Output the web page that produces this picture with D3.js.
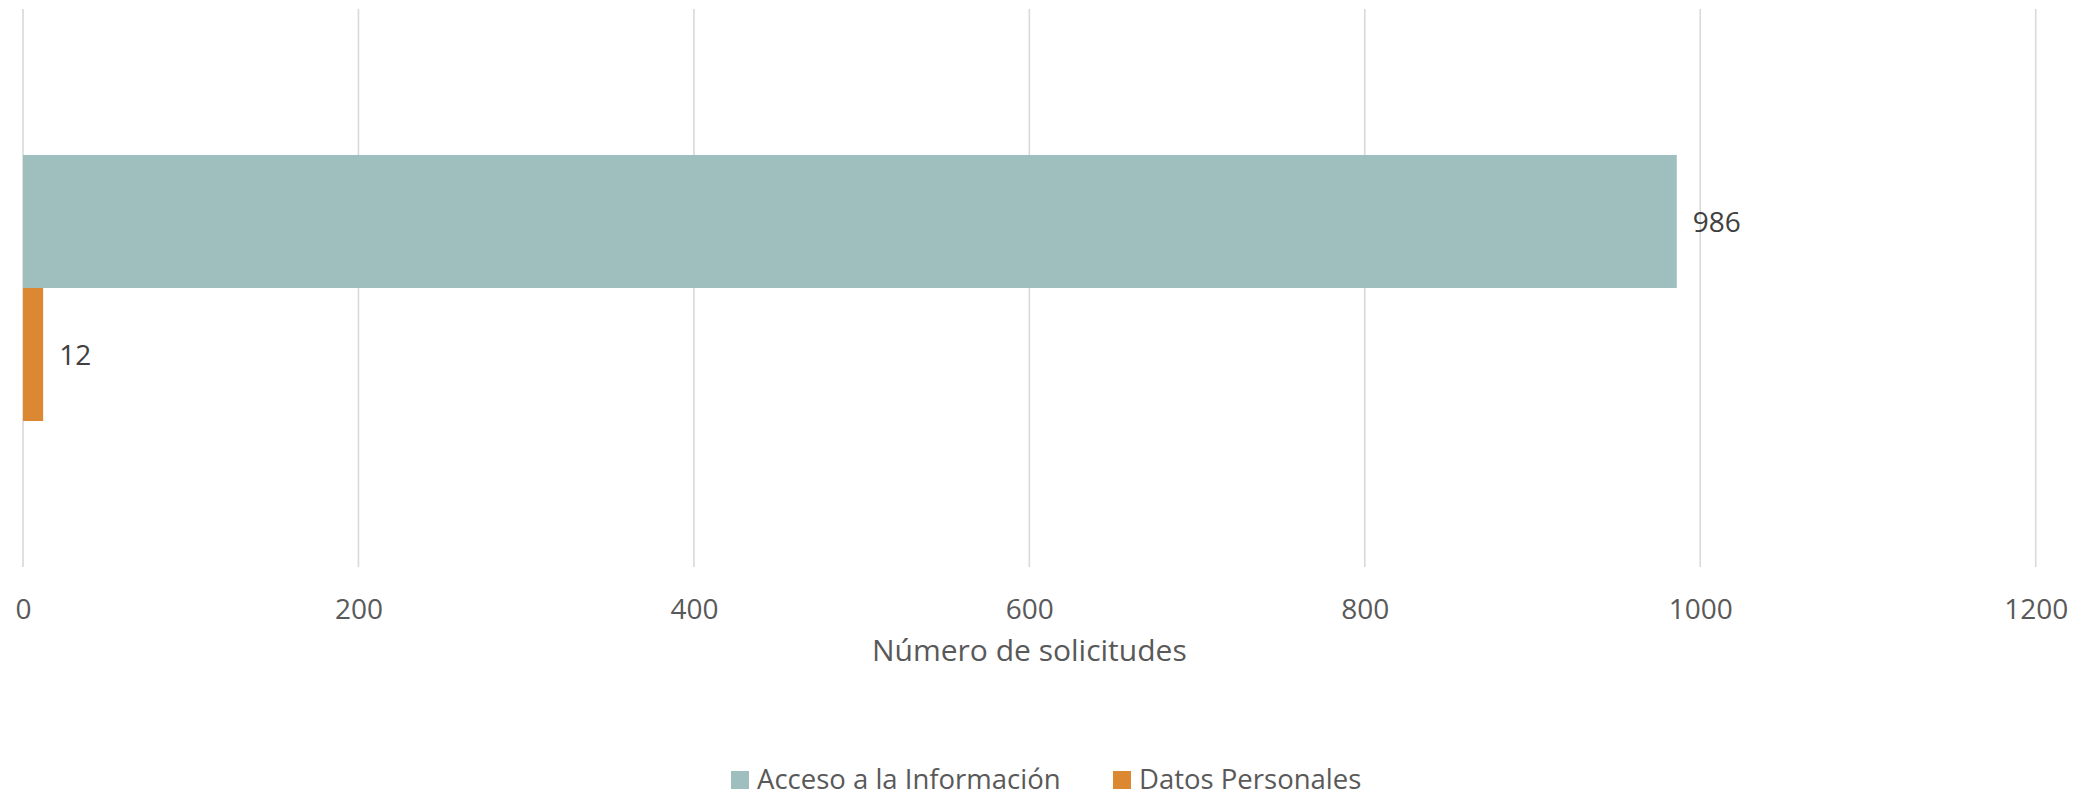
<!DOCTYPE html>
<html>
<head>
<meta charset="utf-8">
<script src="https://cdn.jsdelivr.net/npm/d3@7"></script>
<style>
  html, body { margin: 0; padding: 0; background: #ffffff; }
  svg { display: block; }
  text { font-family: "Open Sans", "Noto Sans", sans-serif; }
</style>
</head>
<body>
<svg id="chart" width="2087" height="796"></svg>
<script>
const categories = ["Solicitudes"];
const seriesNames = ["Acceso a la Información", "Datos Personales"];
const seriesValues = [986, 12];
const seriesColors = ["#9FBFBF", "#DC8731"];
const xTicks = [0, 200, 400, 600, 800, 1000, 1200];
const axisTitle = "Número de solicitudes";

const W = 2087, H = 796;
const plot = { left: 23, right: 2035.7, top: 9, bottom: 567 };

const svg = d3.select("#chart");

const x = d3.scaleLinear().domain([0, 1200]).range([plot.left, plot.right]);
const y0 = d3.scaleBand().domain(categories).range([plot.top, plot.bottom]).padding(0.3543);
const y1 = d3.scaleBand().domain(seriesNames).range([0, y0.bandwidth()]).padding(0);

// gridlines
svg.append("g")
  .selectAll("line")
  .data(xTicks)
  .join("line")
  .attr("x1", d => x(d)).attr("x2", d => x(d))
  .attr("y1", plot.top).attr("y2", plot.bottom)
  .attr("stroke", "#D9D9D9")
  .attr("stroke-width", 1.6);

// tick labels via axis
const axis = d3.axisBottom(x).tickValues(xTicks).tickSize(0).tickPadding(0).tickFormat(d3.format("d"));
const axG = svg.append("g").attr("transform", `translate(0, 618.5)`).call(axis);
axG.select(".domain").remove();
axG.selectAll("text")
  .attr("dy", 0)
  .attr("y", 0)
  .attr("fill", "#595959")
  .style("font-size", "28px")
  .style("font-family", "'Open Sans', sans-serif");

// bars
const data = seriesNames.map((s, i) => ({ cat: categories[0], name: s, value: seriesValues[i], color: seriesColors[i] }));
const g = svg.append("g");
g.selectAll("rect")
  .data(data)
  .join("rect")
  .attr("x", x(0))
  .attr("y", d => y0(d.cat) + y1(d.name))
  .attr("width", d => x(d.value) - x(0))
  .attr("height", y1.bandwidth())
  .attr("fill", d => d.color);

// data labels
g.selectAll("text.lbl")
  .data(data)
  .join("text")
  .attr("class", "lbl")
  .attr("x", d => x(d.value) + 16)
  .attr("y", d => y0(d.cat) + y1(d.name) + y1.bandwidth() / 2)
  .attr("dy", "0.36em")
  .attr("fill", "#404040")
  .style("font-size", "28px")
  .text(d => d.value);

// axis title
svg.append("text")
  .attr("x", (plot.left + plot.right) / 2)
  .attr("y", 660.5)
  .attr("text-anchor", "middle")
  .attr("fill", "#595959")
  .style("font-size", "30px")
  .text(axisTitle);

// legend
const legend = svg.append("g");
const lgItems = [
  { name: seriesNames[0], color: seriesColors[0], x: 731 },
  { name: seriesNames[1], color: seriesColors[1], x: 1113 }
];
lgItems.forEach(it => {
  legend.append("rect")
    .attr("x", it.x).attr("y", 771)
    .attr("width", 18).attr("height", 18)
    .attr("fill", it.color);
  legend.append("text")
    .attr("x", it.x + 26).attr("y", 788.5)
    .attr("fill", "#595959")
    .style("font-size", "27.5px")
    .text(it.name);
});
</script>
</body>
</html>
